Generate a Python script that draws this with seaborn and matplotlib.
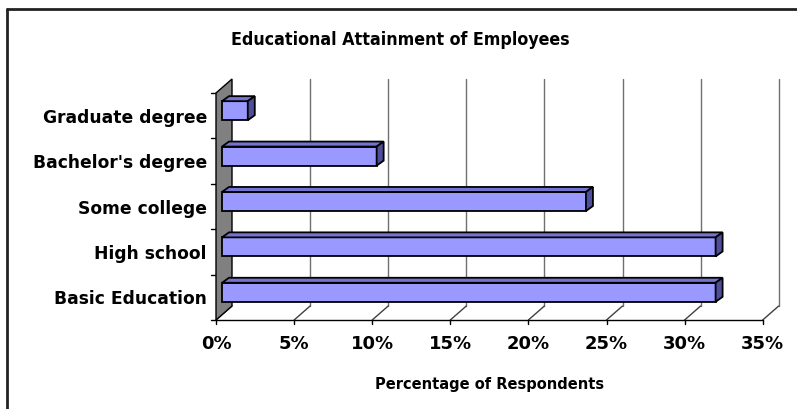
import numpy as np
import pandas as pd
import matplotlib
matplotlib.use("Agg")
import matplotlib.pyplot as plt
import matplotlib.transforms as mtransforms
from matplotlib.patches import Polygon
from matplotlib.lines import Line2D
import seaborn as sns

# ---- data ----
categories = ["Graduate degree", "Bachelor's degree", "Some college", "High school", "Basic Education"]
values = [1.65, 9.9, 23.3, 31.6, 31.6]
x_ticks = [0, 5, 10, 15, 20, 25, 30, 35]
x_tick_labels = ["0%", "5%", "10%", "15%", "20%", "25%", "30%", "35%"]
title = "Educational Attainment of Employees"
x_label = "Percentage of Respondents"

sns.set_style("white")
plt.rcParams['font.family'] = ['DejaVu Sans']
plt.rcParams['text.color'] = 'black'
plt.rcParams['xtick.color'] = 'black'
plt.rcParams['ytick.color'] = 'black'

W, H = 797, 409
DPI = 100
fig = plt.figure(figsize=(W / DPI, H / DPI), dpi=DPI)

# front plane of the pseudo-3D box (pixels from top-left)
fx0, fx1 = 216, 762.7
fy_bot, fy_top = 320, 93
ax = fig.add_axes([fx0 / W, 1 - fy_bot / H, (fx1 - fx0) / W, (fy_bot - fy_top) / H])
ax.set_zorder(2)
ax.patch.set_visible(False)

df = pd.DataFrame({"cat": categories, "val": values})
sns.barplot(data=df, x="val", y="cat", orient="h", color="#9999FF",
            edgecolor="black", linewidth=1.3, width=0.42, saturation=1, ax=ax)
ax.set_xlim(0, 35)
ax.set_ylim(len(categories) - 0.5, -0.5)
ax.set_frame_on(False)
ax.grid(False)
ax.set_xlabel("")
ax.set_ylabel("")

# depth offsets (pixels; +y is up in display)
BACK = (16, 14)      # back wall offset from front plane
BAR_SHIFT = (6, 5)   # bar front face offset from front plane
BAR_DEPTH = (7, 5)   # bar depth

def disp(x, y, off=(0, 0)):
    px, py = ax.transData.transform((x, y))
    return (px + off[0], py + off[1])

ident = mtransforms.IdentityTransform()
ybot, ytop = len(categories) - 0.5, -0.5

# back wall (left gray panel)
wall = [disp(0, ybot), disp(0, ytop), disp(0, ytop, BACK), disp(0, ybot, BACK)]
fig.patches.append(Polygon(wall, closed=True, facecolor="#808080", edgecolor="black",
                           linewidth=1.0, transform=ident, zorder=1))

# gridlines: back verticals + floor diagonals
for t in x_ticks:
    if t == 0:
        continue
    a = disp(t, ybot, BACK); b = disp(t, ytop, BACK)
    fig.lines.append(Line2D([a[0], b[0]], [a[1], b[1]], color="#707070", lw=1.0,
                            transform=ident, zorder=1))
for t in x_ticks:
    a = disp(t, ybot); b = disp(t, ybot, BACK)
    fig.lines.append(Line2D([a[0], b[0]], [a[1], b[1]], color="#404040", lw=1.0,
                            transform=ident, zorder=1))
# front floor line and tick marks
a = disp(0, ybot); b = disp(35, ybot)
fig.lines.append(Line2D([a[0], b[0]], [a[1], b[1]], color="black", lw=1.0, transform=ident, zorder=1))
for t in x_ticks:
    a = disp(t, ybot)
    fig.lines.append(Line2D([a[0], a[0]], [a[1], a[1] - 4], color="black", lw=1.0,
                            transform=ident, zorder=1))
# y boundary tick marks on the left of the wall
for k in range(len(categories) + 1):
    a = disp(0, k - 0.5)
    fig.lines.append(Line2D([a[0] - 5, a[0]], [a[1], a[1]], color="black", lw=1.0,
                            transform=ident, zorder=1))

# bars: shift front faces and add top / side faces
shift = mtransforms.ScaledTranslation(BAR_SHIFT[0] / DPI, BAR_SHIFT[1] / DPI, fig.dpi_scale_trans)
for p in ax.patches:
    x0, y0 = p.get_x(), p.get_y()
    w, h = p.get_width(), p.get_height()
    p.set_transform(ax.transData + shift)
    ytop_d, ybot_d = min(y0, y0 + h), max(y0, y0 + h)
    tl = disp(x0, ytop_d, BAR_SHIFT)
    tr = disp(x0 + w, ytop_d, BAR_SHIFT)
    br = disp(x0 + w, ybot_d, BAR_SHIFT)
    d = BAR_DEPTH
    top = [tl, tr, (tr[0] + d[0], tr[1] + d[1]), (tl[0] + d[0], tl[1] + d[1])]
    side = [tr, br, (br[0] + d[0], br[1] + d[1]), (tr[0] + d[0], tr[1] + d[1])]
    fig.patches.append(Polygon(top, closed=True, facecolor="#7373D0", edgecolor="black",
                               linewidth=1.3, transform=ident, zorder=3))
    fig.patches.append(Polygon(side, closed=True, facecolor="#4E4E9A", edgecolor="black",
                               linewidth=1.3, transform=ident, zorder=3))

# ticks and labels
ax.set_xticks(x_ticks)
ax.set_xticklabels(x_tick_labels, fontsize=13, fontweight="bold")
ax.tick_params(axis="x", length=0, pad=11)
ax.set_yticks(range(len(categories)))
ax.set_yticklabels(categories, fontsize=12.3, fontweight="bold")
ax.tick_params(axis="y", length=0, pad=6.5)

fig.text(400 / W, 1 - 40 / H, title, ha="center", va="center", fontsize=12.8,
         fontweight="heavy", fontstretch="condensed", family=["DejaVu Sans"])
fig.text(490 / W, 1 - 384 / H, x_label, ha="center", va="center", fontsize=10.5,
         fontweight="bold")

# outer frame (left and top edges visible)
fig.lines.append(Line2D([7, 7], [0, H - 9], color="#222222", lw=2, transform=ident))
fig.lines.append(Line2D([7, W], [H - 9, H - 9], color="#222222", lw=2, transform=ident))

fig.savefig("out.png", dpi=DPI)
